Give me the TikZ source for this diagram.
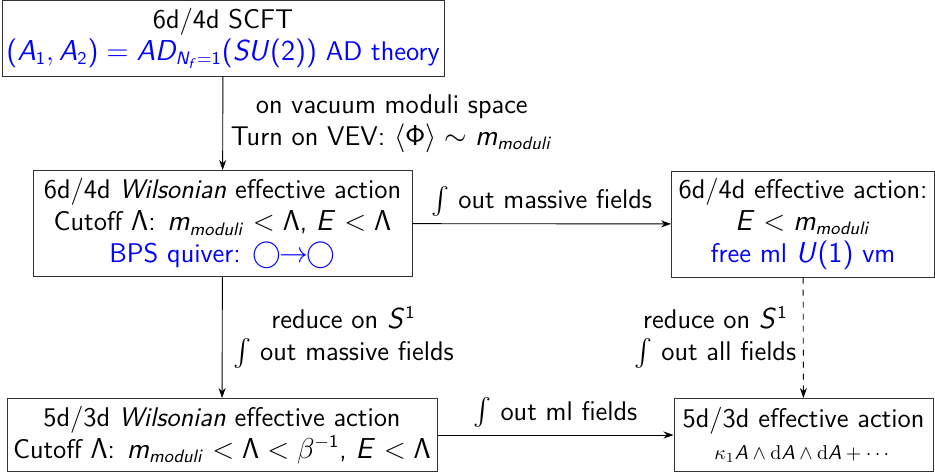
\documentclass[tikz,border=0pt]{standalone}
\usepackage{amsmath,amssymb}
\usepackage{xcolor}
\usepackage{tikz}
\usetikzlibrary{arrows.meta}
\renewcommand{\familydefault}{\sfdefault}
% sans math letters, as on slides
\DeclareSymbolFont{operators}{OT1}{cmss}{m}{n}
\DeclareSymbolFont{sfletters}{OT1}{cmss}{m}{sl}
\DeclareMathAlphabet{\mathsrm}{OT1}{cmr}{m}{n}
\newcommand\sfletter[1]{\DeclareMathSymbol{#1}{\mathalpha}{sfletters}{`#1}}
\sfletter{A}\sfletter{B}\sfletter{C}\sfletter{D}\sfletter{E}\sfletter{F}\sfletter{G}
\sfletter{H}\sfletter{I}\sfletter{J}\sfletter{K}\sfletter{L}\sfletter{M}\sfletter{N}
\sfletter{O}\sfletter{P}\sfletter{Q}\sfletter{R}\sfletter{S}\sfletter{T}\sfletter{U}
\sfletter{V}\sfletter{W}\sfletter{X}\sfletter{Y}\sfletter{Z}
\sfletter{a}\sfletter{b}\sfletter{c}\sfletter{d}\sfletter{e}\sfletter{f}\sfletter{g}
\sfletter{h}\sfletter{i}\sfletter{j}\sfletter{k}\sfletter{l}\sfletter{m}\sfletter{n}
\sfletter{o}\sfletter{p}\sfletter{q}\sfletter{r}\sfletter{s}\sfletter{t}\sfletter{u}
\sfletter{v}\sfletter{w}\sfletter{x}\sfletter{y}\sfletter{z}

\begin{document}
\begin{tikzpicture}[x=0.5pt,y=-0.5pt,
    box/.style={draw=black!80, line width=0.5pt, align=center, inner sep=0pt,
      font=\fontsize{13.5}{16}\selectfont},
    flow/.style={-{Stealth[length=5pt,width=3.5pt]}, line width=0.45pt},
    lbl/.style={align=center, font=\fontsize{13.5}{16}\selectfont}]
  \useasboundingbox (0,0) rectangle (935,473);
  % theories
  \node[box, minimum width=442*0.5pt, minimum height=76*0.5pt] (scft) at (223,38)
    {6d/4d SCFT\\ \color{blue}$(A_1,A_2)=AD_{N_f=1}(SU(2))$ AD theory};
  \node[box, minimum width=379*0.5pt, minimum height=106*0.5pt] (wil6) at (222.5,223.5)
    {6d/4d \emph{Wilsonian} effective action\\
     Cutoff $\Lambda$: $m_{moduli}<\Lambda$, $E<\Lambda$\\
     \color{blue}BPS quiver: $\bigcirc\!\!\rightarrow\!\!\bigcirc$};
  \node[box, minimum width=263*0.5pt, minimum height=106*0.5pt] (eff6) at (803,224)
    {6d/4d effective action:\\ $E<m_{moduli}$\\ \color{blue}free ml $U(1)$ vm};
  \node[box, minimum width=430*0.5pt, minimum height=73*0.5pt] (wil5) at (222,435)
    {5d/3d \emph{Wilsonian} effective action\\
     Cutoff $\Lambda$: $m_{moduli}<\Lambda<\beta^{-1}$, $E<\Lambda$};
  \node[box, minimum width=259*0.5pt, minimum height=73*0.5pt] (eff5) at (803.5,435)
    {5d/3d effective action\\ {\fontsize{10}{12}\selectfont
     $\kappa_{\mathsrm{1}}A\wedge\mathsrm{d}A\wedge\mathsrm{d}A+\cdots$}};
  % flows
  \draw[flow] (scft) -- node[lbl, right=0.5pt] {on vacuum moduli space\\
    Turn on VEV: $\langle\Phi\rangle\sim m_{moduli}$} (wil6);
  \draw[flow] (wil6) -- node[lbl, above=0pt] {$\int$ out massive fields} (eff6);
  \draw[flow] (wil6) -- node[lbl, right=2pt] {reduce on $S^1$\\ $\int$ out massive fields} (wil5);
  \draw[flow, dashed] (eff6) -- node[lbl, left=0pt] {reduce on $S^1$\\ $\int$ out all fields} (eff5);
  \draw[flow] (wil5) -- node[lbl, above=0pt] {$\int$ out ml fields} (eff5);
\end{tikzpicture}
\end{document}
